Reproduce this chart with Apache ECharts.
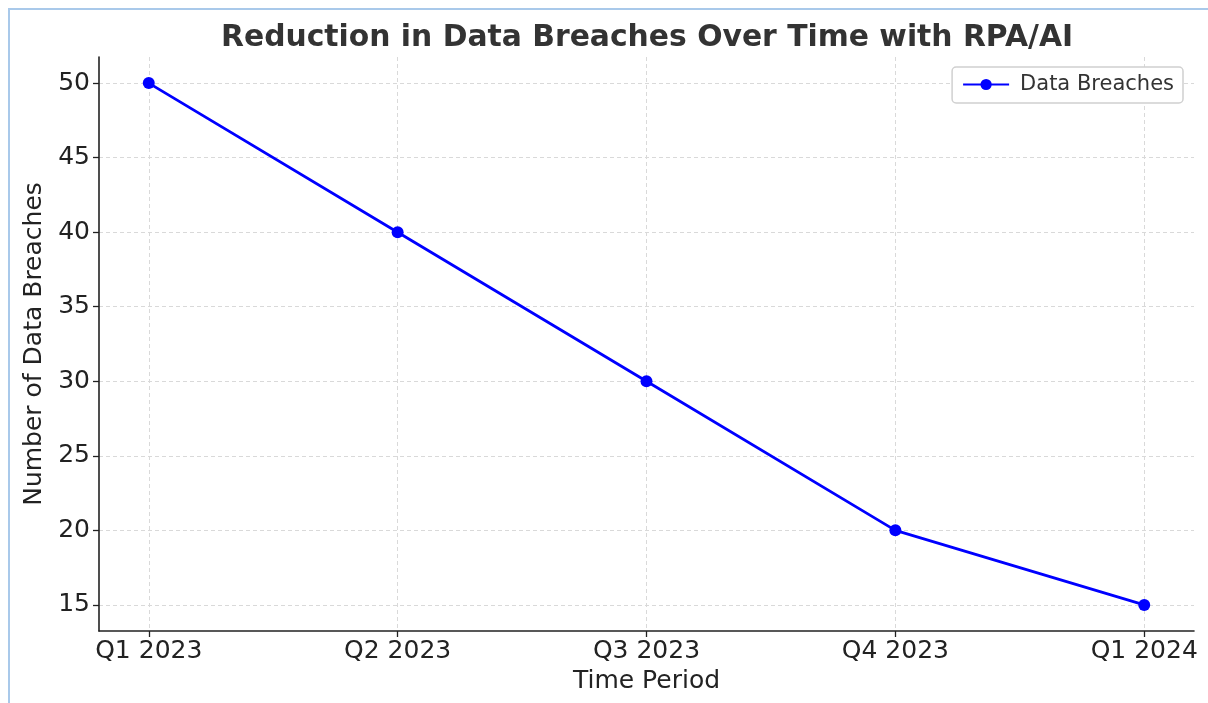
<!DOCTYPE html>
<html>
<head>
<meta charset="utf-8">
<script src="https://cdn.jsdelivr.net/npm/echarts@6/dist/echarts.min.js"></script>
<style>
    html, body { margin: 0; padding: 0; background: #ffffff; }
    .frame {
        position: absolute;
        left: 8px;
        top: 8px;
        width: 1200px;
        height: 695px;
        border-left: 2px solid #a9c9ea;
        border-top: 2px solid #a9c9ea;
    }
    .cy-echarts { position: absolute; left: 0; top: 0; width: 1208px; height: 703px; }
</style>
</head>
<body>
<div class="frame"></div>
<div class="cy-echarts" id="chart"></div>
<script>
// 数据
var categories = ["Q1 2023", "Q2 2023", "Q3 2023", "Q4 2023", "Q1 2024"];
var breaches = [50, 40, 30, 20, 15];
var yTicks = [15, 20, 25, 30, 35, 40, 45, 50];

var xIdx = categories.map(function (c, i) { return i; });
var seriesData = breaches.map(function (v, i) { return [i, v]; });

var font = "DejaVu Sans";
var chart = echarts.init(document.getElementById("chart"));

chart.setOption({
    backgroundColor: "rgba(0,0,0,0)",
    animation: false,
    title: {
        text: "Reduction in Data Breaches Over Time with RPA/AI",
        left: 221,
        top: 23,
        padding: 0,
        textStyle: {
            fontFamily: font,
            fontSize: 29.8,
            fontWeight: "bold",
            color: "#333333"
        }
    },
    legend: {
        right: 25,
        top: 67,
        padding: [7, 9, 8, 10],
        borderColor: "#d0d0d0",
        borderWidth: 1.5,
        borderRadius: 4,
        backgroundColor: "#ffffff",
        itemWidth: 46,
        itemHeight: 14,
        textStyle: { fontFamily: font, fontSize: 21, color: "#333333", padding: [0, 0, 0, 6] },
        data: ["Data Breaches"]
    },
    //网格
    grid: {
        left: 99,
        right: 14,
        top: 57,
        bottom: 72,
        containLabel: false
    },
    xAxis: {
        type: "value",
        min: -0.2,
        max: 4.2,
        name: "Time Period",
        nameLocation: "middle",
        nameGap: 36,
        nameTextStyle: { fontFamily: font, fontSize: 25, color: "#222222" },
        axisLine: { onZero: false, lineStyle: { color: "#222222", width: 1.6 } },
        axisTick: {
            show: true,
            customValues: xIdx,
            length: 6,
            lineStyle: { color: "#222222", width: 1.3 }
        },
        axisLabel: {
            customValues: xIdx,
            margin: 8,
            fontFamily: font,
            fontSize: 25,
            color: "#222222",
            formatter: function (v) { return categories[Math.round(v)]; }
        },
        splitLine: {
            show: true,
            lineStyle: { color: "#d9d9d9", width: 1, type: [4, 3] }
        }
    },
    yAxis: {
        type: "value",
        min: 13.25,
        max: 51.75,
        name: "Number of Data Breaches",
        nameLocation: "middle",
        nameGap: 47,
        nameTextStyle: { fontFamily: font, fontSize: 25, color: "#222222" },
        axisLine: { show: true, onZero: false, lineStyle: { color: "#222222", width: 1.6 } },
        axisTick: {
            show: true,
            customValues: yTicks,
            length: 6,
            lineStyle: { color: "#222222", width: 1.3 }
        },
        axisLabel: {
            customValues: yTicks,
            margin: 9,
            fontFamily: font,
            fontSize: 25,
            color: "#222222"
        },
        splitLine: {
            show: true,
            lineStyle: { color: "#d9d9d9", width: 1, type: [4, 3] }
        }
    },
    series: [
        {
            name: "Data Breaches",
            type: "line",
            data: seriesData,
            symbol: "circle",
            symbolSize: 12,
            lineStyle: { color: "#0000ff", width: 2.8 },
            itemStyle: { color: "#0000ff" }
        }
    ]
});
</script>
</body>
</html>
